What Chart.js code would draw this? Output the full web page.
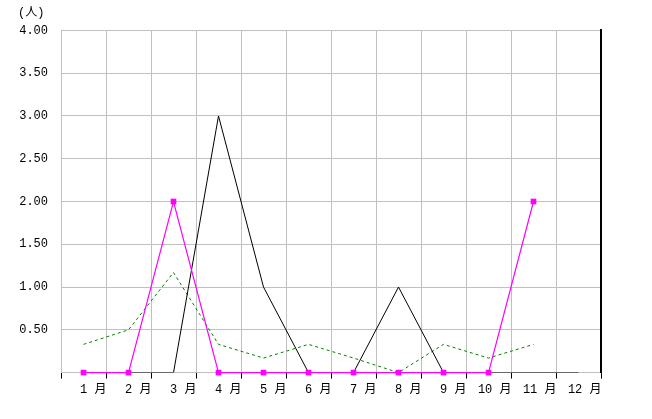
<!DOCTYPE html>
<html>
<head>
<meta charset="utf-8">
<script src="https://cdn.jsdelivr.net/npm/chart.js@4"></script>
<style>
html,body{margin:0;padding:0;background:#fff;}
#wrap{width:652px;height:419px;position:relative;}
</style>
</head>
<body>
<div id="wrap"><canvas id="c" width="652" height="419"></canvas></div>
<script>
const months = ['1 月','2 月','3 月','4 月','5 月','6 月','7 月','8 月','9 月','10 月','11 月','12 月'];
const magentaSeries = [0,0,2,0,0,0,0,0,0,0,2];
const blackSeries = [0,0,0,3,1,0,0,1,0,0,0,0];
const greenSeries = [0.33,0.5,1.17,0.33,0.17,0.33,0.17,0,0.33,0.17,0.33];
const yTicks = [0,0.5,1,1.5,2,2.5,3,3.5,4];
const unitLabel = '(人)';

const FONT = '"Liberation Mono", "Noto Sans CJK JP", monospace';

new Chart(document.getElementById('c'), {
  type: 'line',
  data: {
    labels: months,
    datasets: [
      {
        label: 'magenta',
        data: magentaSeries,
        borderColor: '#ff00ff',
        backgroundColor: '#ff00ff',
        borderWidth: 1.2,
        pointStyle: 'rect',
        pointRadius: 4,
        pointBorderWidth: 0,
        tension: 0,
        clip: false,
        order: 0
      },
      {
        label: 'black',
        data: blackSeries,
        borderColor: '#000000',
        borderWidth: 1,
        pointRadius: 0,
        tension: 0,
        order: 1
      },
      {
        label: 'green',
        data: greenSeries,
        borderColor: '#008000',
        borderWidth: 1,
        borderDash: [3, 3],
        pointRadius: 0,
        tension: 0,
        order: 2
      }
    ]
  },
  options: {
    responsive: false,
    animation: false,
    devicePixelRatio: 1,
    layout: { padding: { left: 18, right: 49, top: 6, bottom: 18 } },
    plugins: {
      legend: { display: false },
      tooltip: { enabled: false },
      title: {
        display: true,
        text: unitLabel,
        align: 'start',
        color: '#000',
        font: { family: FONT, size: 12, weight: 'normal' },
        padding: { top: 0, bottom: 10 }
      }
    },
    scales: {
      x: {
        type: 'category',
        offset: true,
        grid: {
          offset: true,
          color: '#c0c0c0',
          lineWidth: 1,
          tickColor: '#000',
          tickLength: 6
        },
        border: { color: '#c0c0c0' },
        ticks: {
          color: '#000',
          align: 'end',
          labelOffset: 23,
          maxRotation: 0,
          autoSkip: false,
          padding: 4,
          font: { family: FONT, size: 12 }
        }
      },
      y: {
        min: 0,
        max: 4,
        afterBuildTicks: (s) => { s.ticks = yTicks.map(v => ({ value: v })); },
        afterFit: (s) => { s.width = 43; },
        grid: { color: '#c0c0c0', drawTicks: false },
        border: { color: '#c0c0c0' },
        ticks: {
          color: '#000',
          padding: 13,
          font: { family: FONT, size: 12 },
          callback: (v) => v === 0 ? '' : Number(v).toFixed(2)
        }
      },
      y2: {
        position: 'right',
        min: 0,
        max: 4,
        afterFit: (s) => { s.width = 2; },
        grid: { drawOnChartArea: false, drawTicks: false },
        border: { color: '#000', width: 2 },
        ticks: { display: false }
      }
    }
  }
});
</script>
</body>
</html>
